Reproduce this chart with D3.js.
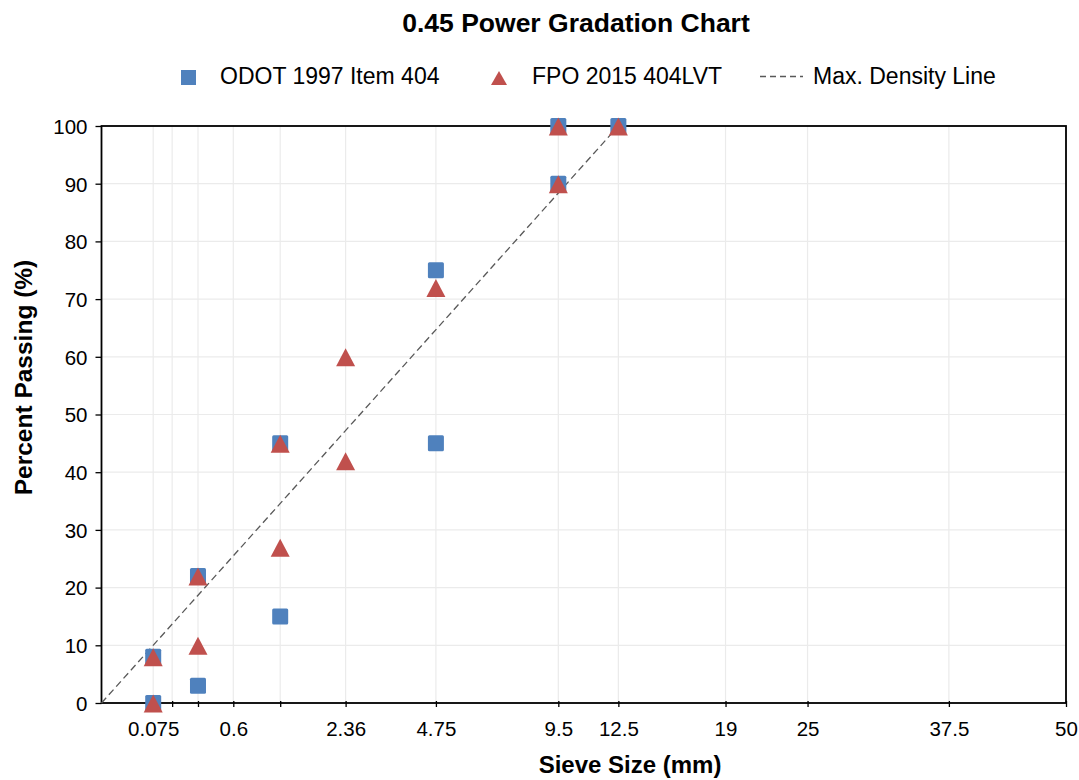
<!DOCTYPE html>
<html>
<head>
<meta charset="utf-8">
<script src="https://cdn.jsdelivr.net/npm/d3@7"></script>
<style>
  body { margin: 0; background: #fff; }
  text { font-family: "Liberation Sans", Arial, sans-serif; fill: #000; }
</style>
</head>
<body>
<svg id="chart" width="1079" height="780"></svg>
<script>
// Sieve sizes (mm) and percent passing for each specification band
const odotSizes   = [0.075, 0.075, 0.3, 0.3, 1.18, 1.18, 4.75, 4.75, 9.5, 9.5, 12.5];
const odotPassing = [0, 8, 3, 22, 15, 45, 45, 75, 90, 100, 100];

const fpoSizes   = [0.075, 0.075, 0.3, 0.3, 1.18, 1.18, 2.36, 2.36, 4.75, 9.5, 9.5, 12.5];
const fpoPassing = [0, 8, 10, 22, 27, 45, 42, 60, 72, 90, 100, 100];

// Maximum density line runs from the origin to the nominal maximum size
const densitySizes   = [0, 12.5];
const densityPassing = [0, 100];

// Grid sieves and the subset that carries labels
const gridSieves  = [0.075, 0.15, 0.3, 0.6, 1.18, 2.36, 4.75, 9.5, 12.5, 19, 25, 37.5, 50];
const labelSieves = [0.075, 0.6, 2.36, 4.75, 9.5, 12.5, 19, 25, 37.5, 50];
const yTicks = [0, 10, 20, 30, 40, 50, 60, 70, 80, 90, 100];

const svg = d3.select("#chart");
const plotLeft = 101.5, plotRight = 1066, plotTop = 126, plotBottom = 703;

const x = d3.scalePow().exponent(0.45).domain([0, 50]).range([plotLeft, plotRight]);
const y = d3.scaleLinear().domain([0, 100]).range([plotBottom, plotTop]);

// Grid
const grid = svg.append("g");
grid.selectAll(".vg").data(gridSieves).join("line")
  .attr("x1", d => x(d)).attr("x2", d => x(d))
  .attr("y1", plotTop).attr("y2", plotBottom)
  .attr("stroke", "#ebebeb").attr("stroke-width", 1.2);
grid.selectAll(".hg").data(yTicks).join("line")
  .attr("x1", plotLeft).attr("x2", plotRight)
  .attr("y1", d => y(d)).attr("y2", d => y(d))
  .attr("stroke", "#ebebeb").attr("stroke-width", 1.2);

// Axes
const tickFont = "20.5px";
const xAxis = d3.axisBottom(x).tickValues(gridSieves)
  .tickSize(6).tickSizeOuter(0)
  .tickFormat(d => labelSieves.includes(d) ? String(d) : "");
const gx = svg.append("g").attr("transform", `translate(0,${plotBottom - 2})`).call(xAxis);
gx.select(".domain").remove();
gx.selectAll(".tick line").attr("stroke", "#000").attr("stroke-width", 1.3);
gx.selectAll(".tick text").attr("dy", 0).attr("y", 35)
  .style("font-size", tickFont).style("font-family", "Liberation Sans, Arial, sans-serif");

const yAxis = d3.axisLeft(y).tickValues(yTicks).tickSize(6).tickSizeOuter(0).tickPadding(8);
const gy = svg.append("g").attr("transform", `translate(${plotLeft},0)`).call(yAxis);
gy.select(".domain").remove();
gy.selectAll(".tick line").attr("stroke", "#000").attr("stroke-width", 1.3);
gy.selectAll(".tick text").attr("dy", "0.36em")
  .style("font-size", tickFont).style("font-family", "Liberation Sans, Arial, sans-serif");

// Plot frame
svg.append("rect")
  .attr("x", plotLeft).attr("y", plotTop)
  .attr("width", plotRight - plotLeft).attr("height", plotBottom - plotTop)
  .attr("fill", "none").attr("stroke", "#000").attr("stroke-width", 1.8);

// Maximum density line
const line = d3.line().x((d, i) => x(densitySizes[i])).y((d, i) => y(densityPassing[i]));
svg.append("path").datum(densitySizes)
  .attr("d", line)
  .attr("fill", "none").attr("stroke", "#595959")
  .attr("stroke-width", 1.3).attr("stroke-dasharray", "7,4");

// Markers
const blue = "#4F81BD", red = "#C0504D";
const sq = 16;
svg.append("g").selectAll("rect").data(odotSizes.map((s, i) => [s, odotPassing[i]]))
  .join("rect")
  .attr("x", d => x(d[0]) - sq / 2).attr("y", d => y(d[1]) - sq / 2)
  .attr("width", sq).attr("height", sq).attr("rx", 1.5)
  .attr("fill", blue);

// Isosceles triangle centred on its bounding box
const triangle = (w, h) => `M0,${-h / 2}L${w / 2},${h / 2}L${-w / 2},${h / 2}Z`;
svg.append("g").selectAll("path").data(fpoSizes.map((s, i) => [s, fpoPassing[i]]))
  .join("path")
  .attr("d", triangle(19, 18))
  .attr("transform", d => `translate(${x(d[0])},${y(d[1]) + 0.5})`)
  .attr("fill", red);

// Title
svg.append("text").attr("x", 576).attr("y", 32)
  .attr("text-anchor", "middle")
  .style("font-size", "26.5px").style("font-weight", "bold")
  .text("0.45 Power Gradation Chart");

// Legend
const lg = svg.append("g");
const legendFont = "23px";
lg.append("rect").attr("x", 181).attr("y", 70).attr("width", 15).attr("height", 15).attr("fill", blue);
lg.append("text").attr("x", 220).attr("y", 84).style("font-size", legendFont).text("ODOT 1997 Item 404");
lg.append("path").attr("d", triangle(16, 14)).attr("transform", "translate(499,78)").attr("fill", red);
lg.append("text").attr("x", 532).attr("y", 84).style("font-size", legendFont).text("FPO 2015 404LVT");
lg.append("line").attr("x1", 760).attr("x2", 803).attr("y1", 76.5).attr("y2", 76.5)
  .attr("stroke", "#595959").attr("stroke-width", 1.3).attr("stroke-dasharray", "6,4");
lg.append("text").attr("x", 813).attr("y", 84).style("font-size", legendFont).text("Max. Density Line");

// Axis titles
svg.append("text").attr("x", 630).attr("y", 773)
  .attr("text-anchor", "middle")
  .style("font-size", "24px").style("font-weight", "bold")
  .text("Sieve Size (mm)");
svg.append("text")
  .attr("transform", `translate(32,377.5) rotate(-90)`)
  .attr("text-anchor", "middle")
  .style("font-size", "24.5px").style("font-weight", "bold")
  .text("Percent Passing (%)");
</script>
</body>
</html>
